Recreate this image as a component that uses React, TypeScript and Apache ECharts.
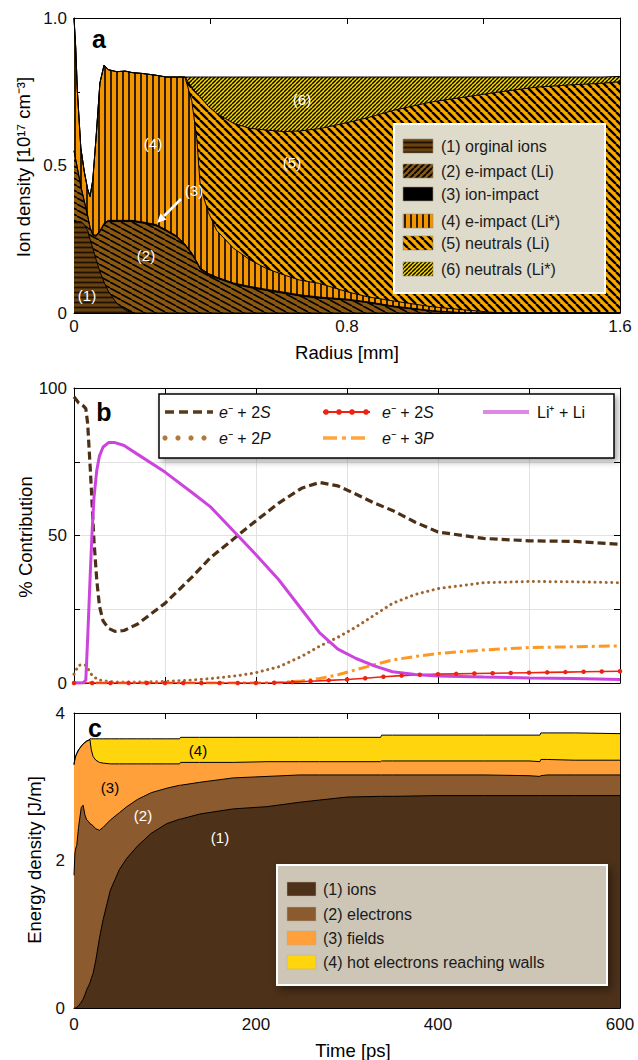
import React, { useEffect, useRef } from 'react';
import * as echarts from 'echarts';

const FONT = '"Liberation Sans", Arial, Helvetica, sans-serif';

// ---------- Panel a: ion density vs radius (cumulative layer tops) ----------
const radius = [0, 0.005, 0.01, 0.02, 0.03, 0.04, 0.047, 0.055, 0.065, 0.076,
  0.088, 0.1, 0.125, 0.15, 0.17, 0.2, 0.24, 0.27, 0.3, 0.325,
  0.345, 0.36, 0.37, 0.394, 0.418, 0.467, 0.516, 0.565, 0.613, 0.66,
  0.72, 0.8, 0.86, 0.94, 1.05, 1.15, 1.25, 1.35, 1.45, 1.55, 1.6];
const originalIonsTop = [0.31, 0.31, 0.31, 0.31, 0.30, 0.28, 0.25, 0.22, 0.18, 0.14,
  0.105, 0.075, 0.033, 0.01, 0, 0, 0, 0, 0, 0,
  0, 0, 0, 0, 0, 0, 0, 0, 0, 0,
  0, 0, 0, 0, 0, 0, 0, 0, 0, 0, 0];
const eImpactLiTop = [0.55, 0.52, 0.49, 0.43, 0.38, 0.33, 0.29, 0.265, 0.26, 0.275,
  0.3, 0.31, 0.31, 0.31, 0.31, 0.305, 0.296, 0.278, 0.258, 0.23,
  0.2, 0.17, 0.148, 0.13, 0.118, 0.098, 0.086, 0.076, 0.067, 0.058,
  0.05, 0.044, 0.035, 0.02, 0.006, 0, 0, 0, 0, 0, 0];
const ionImpactTop = [0.55, 0.52, 0.49, 0.43, 0.38, 0.33, 0.29, 0.265, 0.264, 0.279,
  0.304, 0.314, 0.314, 0.314, 0.314, 0.309, 0.3, 0.282, 0.262, 0.234,
  0.204, 0.174, 0.152, 0.134, 0.122, 0.102, 0.09, 0.08, 0.071, 0.062,
  0.054, 0.047, 0.038, 0.023, 0.008, 0, 0, 0, 0, 0, 0];
const eImpactLiStarTop = [1.0, 0.9, 0.75, 0.56, 0.48, 0.42, 0.395, 0.45, 0.6, 0.78,
  0.84, 0.825, 0.818, 0.82, 0.815, 0.812, 0.806, 0.80, 0.80, 0.80,
  0.72, 0.59, 0.43, 0.34, 0.28, 0.22, 0.18, 0.15, 0.13, 0.112,
  0.10, 0.072, 0.055, 0.04, 0.021, 0.01, 0, 0, 0, 0, 0];
const neutralsLiTop = [1.0, 0.9, 0.75, 0.56, 0.48, 0.42, 0.395, 0.45, 0.6, 0.78,
  0.84, 0.825, 0.818, 0.82, 0.815, 0.812, 0.806, 0.80, 0.80, 0.80,
  0.765, 0.745, 0.733, 0.70, 0.677, 0.643, 0.626, 0.62, 0.615, 0.617,
  0.625, 0.645, 0.662, 0.688, 0.716, 0.733, 0.75, 0.765, 0.773, 0.779, 0.784];
const neutralsLiStarTop = [1.0, 0.9, 0.75, 0.56, 0.48, 0.42, 0.395, 0.45, 0.6, 0.78,
  0.84, 0.825, 0.818, 0.82, 0.815, 0.812, 0.806, 0.80, 0.80, 0.80,
  0.80, 0.80, 0.80, 0.80, 0.80, 0.80, 0.80, 0.80, 0.80, 0.80,
  0.80, 0.80, 0.80, 0.80, 0.80, 0.80, 0.80, 0.80, 0.80, 0.80, 0.802];
const legendA = ['(1) orginal ions', '(2) e-impact (Li)', '(3) ion-impact', '(4) e-impact (Li*)', '(5) neutrals (Li)', '(6) neutrals (Li*)'];

// ---------- Panel b: % contribution vs time ----------
const timeB = [0, 5, 10, 13, 15, 18, 20, 22, 25, 28,
  32, 38, 45, 55, 70, 100, 130, 150, 180, 200,
  225, 250, 270, 290, 310, 330, 350, 375, 400, 450,
  500, 550, 600];
const e2S = [97, 95, 94, 93, 88, 72, 60, 48, 35, 26,
  21, 18.5, 17.5, 17.8, 20, 27, 36, 42.5, 50, 55,
  61, 66, 68, 66.8, 64, 61, 58.5, 54.5, 51.2, 49,
  48.2, 48, 47];
const e2P = [3, 6, 6.2, 6, 5, 3.5, 2.5, 2, 1.5, 1,
  0.8, 0.5, 0.3, 0.3, 0.3, 0.5, 1, 1.5, 2.5, 3.5,
  5.5, 9, 12.5, 15.5, 19, 23, 27, 30, 32, 34,
  34.4, 34.3, 34];
const e3P = [0, 0, 0, 0, 0, 0, 0, 0, 0, 0,
  0, 0, 0, 0, 0, 0, 0, 0, 0, 0,
  0.1, 0.7, 1.5, 2.8, 4.5, 6.2, 7.8, 9, 10, 11.2,
  12, 12.3, 12.6];
const liPlusLi = [0, 0, 0, 1, 15, 38, 52, 63, 72, 77,
  80, 81.5, 81.5, 80.5, 77.5, 71.5, 64.5, 59.7, 50, 43.5,
  35, 25, 17, 11.5, 8.3, 5.8, 3.8, 2.9, 2.4, 2,
  1.7, 1.5, 1.2];
const timeRed = [0, 20, 40, 60, 80, 100, 120, 140, 160, 180, 200,
  220, 240, 260, 280, 300, 320, 340, 360, 380, 400,
  420, 440, 460, 480, 500, 520, 540, 560, 580, 600];
const e2SRed = [0, 0, 0, 0, 0, 0, 0, 0, 0, 0, 0,
  0.1, 0.3, 0.6, 0.9, 1.2, 1.6, 2.1, 2.5, 2.8, 3.0,
  3.1, 3.2, 3.3, 3.4, 3.5, 3.6, 3.7, 3.8, 3.9, 4.0];

// ---------- Panel c: energy density vs time (cumulative layer tops) ----------
const timeC = [0, 1, 2, 3, 5, 8, 10, 12, 14, 16,
  17.5, 19, 21, 24, 28, 32, 40, 50, 58, 70,
  85, 102, 116, 117, 138, 175, 212, 248, 270, 300,
  337, 338, 350, 400, 450, 500, 512, 513, 520, 550, 600];
const ionsTop = [0, 0, 0, 0.01, 0.03, 0.08, 0.12, 0.18, 0.25, 0.3,
  0.34, 0.4, 0.47, 0.65, 0.95, 1.2, 1.6, 1.88, 2.03, 2.2,
  2.37, 2.5, 2.56, 2.56, 2.63, 2.7, 2.73, 2.79, 2.82, 2.86,
  2.87, 2.87, 2.87, 2.88, 2.88, 2.88, 2.88, 2.88, 2.88, 2.88, 2.88];
const electronsTop = [1.8, 2.1, 2.17, 2.2, 2.45, 2.72, 2.75, 2.62, 2.55, 2.53,
  2.5, 2.49, 2.47, 2.43, 2.41, 2.45, 2.55, 2.65, 2.73, 2.83,
  2.92, 2.98, 3.02, 3.02, 3.06, 3.12, 3.14, 3.16, 3.16, 3.16,
  3.16, 3.16, 3.16, 3.16, 3.16, 3.15, 3.14, 3.15, 3.16, 3.16, 3.16];
const fieldsTop = [3.3, 3.38, 3.42, 3.45, 3.5, 3.55, 3.58, 3.6, 3.62, 3.63,
  3.64, 3.5, 3.41, 3.36, 3.33, 3.32, 3.31, 3.31, 3.31, 3.31,
  3.31, 3.31, 3.31, 3.33, 3.33, 3.33, 3.34, 3.34, 3.34, 3.34,
  3.34, 3.35, 3.35, 3.35, 3.35, 3.35, 3.34, 3.37, 3.37, 3.36, 3.36];
const hotTop = [3.3, 3.38, 3.42, 3.45, 3.5, 3.55, 3.58, 3.6, 3.62, 3.63,
  3.65, 3.65, 3.65, 3.65, 3.65, 3.65, 3.65, 3.65, 3.65, 3.65,
  3.65, 3.65, 3.65, 3.67, 3.67, 3.67, 3.67, 3.67, 3.67, 3.67,
  3.67, 3.70, 3.70, 3.70, 3.70, 3.70, 3.70, 3.73, 3.73, 3.73, 3.72];
const legendC = ['(1) ions', '(2) electrons', '(3) fields', '(4) hot electrons reaching walls'];
const colorsC = ['#4d3119', '#8b5b2f', '#ffa03a', '#ffd50d'];

function makePattern(bg: string, fg: string, kind: string, w: number, h: number, lw: number) {
  const c = document.createElement('canvas');
  c.width = w; c.height = h;
  const ctx = c.getContext('2d')!;
  ctx.fillStyle = bg; ctx.fillRect(0, 0, w, h);
  ctx.strokeStyle = fg; ctx.lineWidth = lw;
  ctx.beginPath();
  if (kind === 'h') { ctx.moveTo(0, h / 2); ctx.lineTo(w, h / 2); }
  else if (kind === 'v') { ctx.moveTo(w / 2, 0); ctx.lineTo(w / 2, h); }
  else if (kind === 'fwd') {
    for (let k = -1; k <= 1; k++) { ctx.moveTo(k * w, h); ctx.lineTo(k * w + w, 0); }
  } else {
    for (let k = -1; k <= 1; k++) { ctx.moveTo(k * w, 0); ctx.lineTo(k * w + w, h); }
  }
  ctx.stroke();
  return { image: c.toDataURL(), repeat: 'repeat', imageWidth: w, imageHeight: h };
}

const near = (a: number, b: number) => Math.abs(a - b) < 1e-6;

function axisPair(gridIndex: number, min: number, max: number, interval: number, labels: number[], labelFmt: (v: number) => string, margin: number, split: boolean, isX: boolean) {
  const common = {
    gridIndex, type: 'value', min, max, interval,
    axisLine: { show: true, onZero: false, lineStyle: { color: '#000', width: 1 } },
    axisTick: { show: true, inside: true, length: 6, lineStyle: { color: '#000', width: 1 } },
    splitLine: { show: false },
  };
  const main = {
    ...common,
    position: isX ? 'bottom' : 'left',
    splitLine: { show: split, lineStyle: { color: '#e2e2e2', width: 1 } },
    axisLabel: {
      show: labels.length > 0, color: '#111', fontSize: 17, fontFamily: FONT, margin,
      formatter: (v: number) => (labels.some((l) => near(l, v)) ? labelFmt(v) : ''),
    },
  };
  const other = { ...common, position: isX ? 'top' : 'right', axisLabel: { show: false } };
  return [main, other];
}

function areaSeries(name: string, xs: number[], ys: number[], fill: any, idx: number) {
  return {
    type: 'line', name, xAxisIndex: idx, yAxisIndex: idx,
    data: xs.map((x, i) => [x, ys[i]]),
    symbol: 'none', showSymbol: false, silent: true,
    lineStyle: { color: '#000', width: 1 },
    areaStyle: { color: fill, opacity: 1 },
  };
}

function txt(x: number, y: number, text: string, opts: any = {}) {
  return {
    type: 'text', x, y, z: 100, rotation: opts.rotation || 0, silent: true,
    style: {
      text, fill: opts.fill || '#000', fontSize: opts.fontSize || 16, fontFamily: FONT,
      fontWeight: opts.fontWeight || 'normal', align: opts.align || 'left', verticalAlign: 'middle',
      rich: opts.rich,
    },
  };
}

export default function App() {
  const ref = useRef<HTMLDivElement>(null);
  useEffect(() => {
    const chart = echarts.init(ref.current!, null, { renderer: 'svg' });

    const patA = [
      makePattern('#6a4212', '#1e1200', 'h', 5, 5, 1.8),
      makePattern('#8a5810', '#000000', 'bwd', 11, 6, 1.6),
      '#000000',
      makePattern('#f29500', '#000000', 'v', 6, 6, 1.6),
      makePattern('#f8a900', '#000000', 'bwd', 8, 8, 2.4),
      makePattern('#f2d200', '#000000', 'fwd', 4, 4, 1.4),
    ];
    const patLegendA = [...patA];
    patLegendA[1] = makePattern('#8a5810', '#000000', 'fwd', 6, 6, 1.8);

    const xa = axisPair(0, 0, 1.6, 0.4, [0, 0.8, 1.6], (v) => (near(v, 0) ? '0' : v.toFixed(1)), 5, false, true);
    const ya = axisPair(0, 0, 1, 0.25, [0, 0.5, 1], (v) => (near(v, 0) ? '0' : v.toFixed(1)), 7, false, false);
    const xb = axisPair(1, 0, 600, 100, [], (v) => String(v), 8, true, true);
    const yb = axisPair(1, 0, 100, 25, [0, 50, 100], (v) => String(v), 7, true, false);
    const xc = axisPair(2, 0, 600, 100, [0, 200, 400, 600], (v) => String(v), 8, false, true);
    const yc = axisPair(2, 0, 4, 1, [0, 2, 4], (v) => String(v), 9, false, false);

    const italicRich = {
      i: { fontStyle: 'italic', fontSize: 16, fontFamily: FONT, fill: '#111' },
      n: { fontSize: 16, fontFamily: FONT, fill: '#111' },
    };

    const graphic: any[] = [];
    // Panel letters
    graphic.push(txt(99, 39, 'a', { fontSize: 25, fontWeight: 'bold', align: 'center' }));
    graphic.push(txt(104, 412, 'b', { fontSize: 25, fontWeight: 'bold', align: 'center' }));
    graphic.push(txt(95, 728, 'c', { fontSize: 25, fontWeight: 'bold', align: 'center' }));
    // Axis titles
    graphic.push(txt(23, 167, 'Ion density [10¹⁷ cm⁻³]', { fontSize: 18.5, align: 'center', rotation: Math.PI / 2 }));
    graphic.push(txt(25, 537, '% Contribution', { fontSize: 18.5, align: 'center', rotation: Math.PI / 2 }));
    graphic.push(txt(34, 860, 'Energy density [J/m]', { fontSize: 18.5, align: 'center', rotation: Math.PI / 2 }));
    graphic.push(txt(347, 352, 'Radius [mm]', { fontSize: 18.5, align: 'center' }));
    graphic.push(txt(353, 1050, 'Time [ps]', { fontSize: 18.5, align: 'center' }));

    // Panel a region labels
    const aLabels: [number, number, string][] = [[153, 143, '(4)'], [194, 190, '(3)'], [146, 255, '(2)'], [87, 295, '(1)'], [302, 99, '(6)'], [292, 162, '(5)']];
    aLabels.forEach(([x, y, t]) => graphic.push(txt(x, y, t, { fill: '#fff', fontSize: 15, align: 'center' })));
    // arrow
    graphic.push({ type: 'line', z: 100, shape: { x1: 181, y1: 199, x2: 164, y2: 216 }, style: { stroke: '#fff', lineWidth: 2.5 } });
    graphic.push({ type: 'polygon', z: 100, shape: { points: [[157, 223], [166.5, 219.5], [160.5, 213.5]] }, style: { fill: '#fff' } });

    // Panel a legend
    graphic.push({ type: 'rect', z: 99, shape: { x: 394, y: 124, width: 211, height: 169 }, style: { fill: '#dedbcb', stroke: '#fff', lineWidth: 2 } });
    const rowsA = [146, 171, 194, 221, 243, 269];
    legendA.forEach((name, i) => {
      graphic.push({ type: 'rect', z: 100, shape: { x: 403, y: rowsA[i] - 7, width: 30, height: 14 }, style: { fill: patLegendA[i], stroke: '#9a8f70', lineWidth: 0.6 } });
      graphic.push(txt(441, rowsA[i], name, { fontSize: 16, fill: '#1a1a1a' }));
    });

    // Panel b legend
    graphic.push({ type: 'rect', z: 99, shape: { x: 159, y: 394, width: 455, height: 64 }, style: { fill: '#fff', stroke: '#000', lineWidth: 1.5, shadowBlur: 6, shadowOffsetX: 3, shadowOffsetY: 3, shadowColor: 'rgba(0,0,0,0.35)' } });
    graphic.push({ type: 'line', z: 100, shape: { x1: 165, y1: 412, x2: 213, y2: 412 }, style: { stroke: '#5a3a1c', lineWidth: 3.5, lineDash: [9, 5] } });
    graphic.push(txt(219, 412, '{i|e}{n|⁻ + 2}{i|S}', { rich: italicRich }));
    [165, 178, 191, 204].forEach((cx) => graphic.push({ type: 'circle', z: 100, shape: { cx, cy: 438, r: 2.6 }, style: { fill: '#b0773e' } }));
    graphic.push(txt(219, 438, '{i|e}{n|⁻ + 2}{i|P}', { rich: italicRich }));
    graphic.push({ type: 'line', z: 100, shape: { x1: 323, y1: 412, x2: 370, y2: 412 }, style: { stroke: '#ee2211', lineWidth: 2 } });
    [326, 339, 352, 366].forEach((cx) => graphic.push({ type: 'circle', z: 100, shape: { cx, cy: 412, r: 2.8 }, style: { fill: '#ee2211' } }));
    graphic.push(txt(382, 412, '{i|e}{n|⁻ + 2}{i|S}', { rich: italicRich }));
    graphic.push({ type: 'line', z: 100, shape: { x1: 323, y1: 438, x2: 369, y2: 438 }, style: { stroke: '#ffa640', lineWidth: 3.5, lineDash: [14, 5, 4, 5] } });
    graphic.push(txt(382, 438, '{i|e}{n|⁻ + 3}{i|P}', { rich: italicRich }));
    graphic.push({ type: 'line', z: 100, shape: { x1: 483, y1: 412, x2: 529, y2: 412 }, style: { stroke: '#dd88e2', lineWidth: 4 } });
    graphic.push(txt(537, 412, 'Li⁺ + Li', { fontSize: 16, fill: '#111' }));

    // Panel c labels
    graphic.push(txt(198, 750, '(4)', { fontSize: 15, align: 'center' }));
    graphic.push(txt(110, 787, '(3)', { fontSize: 15, align: 'center' }));
    graphic.push(txt(143, 815, '(2)', { fontSize: 15, align: 'center', fill: '#fff' }));
    graphic.push(txt(220, 837, '(1)', { fontSize: 15, align: 'center', fill: '#fff' }));

    // Panel c legend
    graphic.push({ type: 'rect', z: 99, shape: { x: 277, y: 865, width: 330, height: 120 }, style: { fill: '#cdc6b6', stroke: '#fff', lineWidth: 2, shadowBlur: 8, shadowOffsetX: 3, shadowOffsetY: 4, shadowColor: 'rgba(0,0,0,0.45)' } });
    const rowsC = [889, 914, 938, 962];
    legendC.forEach((name, i) => {
      graphic.push({ type: 'rect', z: 100, shape: { x: 287, y: rowsC[i] - 7, width: 29, height: 14 }, style: { fill: colorsC[i], stroke: '#b8a890', lineWidth: 0.5 } });
      graphic.push(txt(323, rowsC[i], name, { fontSize: 16, fill: '#1a1a1a' }));
    });

    const lineB = (name: string, ys: number[], lineStyle: any) => ({
      type: 'line', name, xAxisIndex: 2, yAxisIndex: 2, symbol: 'none',
      data: timeB.map((t, i) => [t, ys[i]]),
      lineStyle,
    });

    const option: any = {
      animation: false,
      backgroundColor: '#fff',
      textStyle: { fontFamily: FONT },
      grid: [
        { left: 74, right: 18, top: 18, height: 295 },
        { left: 74, right: 18, top: 388, height: 295 },
        { left: 74, right: 18, top: 713, height: 295 },
      ],
      xAxis: [...xa, ...xb, ...xc],
      yAxis: [...ya, ...yb, ...yc],
      graphic,
      series: [
        // panel a (back to front)
        areaSeries(legendA[5], radius, neutralsLiStarTop, patA[5], 0),
        areaSeries(legendA[4], radius, neutralsLiTop, patA[4], 0),
        areaSeries(legendA[3], radius, eImpactLiStarTop, patA[3], 0),
        areaSeries(legendA[2], radius, ionImpactTop, patA[2], 0),
        areaSeries(legendA[1], radius, eImpactLiTop, patA[1], 0),
        areaSeries(legendA[0], radius, originalIonsTop, patA[0], 0),
        // panel b lines
        lineB('e- + 2P', e2P, { color: '#a0652d', width: 3, type: [0.1, 5.5], cap: 'round' }),
        lineB('e- + 3P', e3P, { color: '#ff9820', width: 3, type: [11, 4, 3, 4] }),
        {
          type: 'line', name: 'e- + 2S (red)', xAxisIndex: 2, yAxisIndex: 2,
          symbol: 'circle', symbolSize: 4.5, showSymbol: true,
          data: timeRed.map((t, i) => [t, e2SRed[i]]),
          itemStyle: { color: '#ee2211' },
          lineStyle: { color: '#ee2211', width: 1.6 },
        },
        lineB('e- + 2S', e2S, { color: '#4b2f17', width: 3.2, type: [8, 4] }),
        lineB('Li+ + Li', liPlusLi, { color: '#cc44dd', width: 3 }),
        // panel c (back to front)
        areaSeries(legendC[3], timeC, hotTop, colorsC[3], 4),
        areaSeries(legendC[2], timeC, fieldsTop, colorsC[2], 4),
        areaSeries(legendC[1], timeC, electronsTop, colorsC[1], 4),
        areaSeries(legendC[0], timeC, ionsTop, colorsC[0], 4),
      ],
    };
    chart.setOption(option);
    return () => chart.dispose();
  }, []);
  return <div ref={ref} style={{ position: 'absolute', left: 0, top: 0, width: 638, height: 1060 }} />;
}
